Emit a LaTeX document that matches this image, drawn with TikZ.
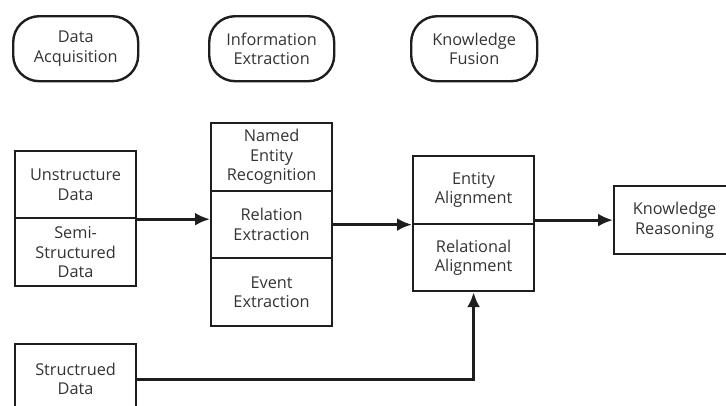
\documentclass[tikz,border=0pt]{standalone}
\usepackage{fontspec}
\setmainfont{Open Sans}
\usetikzlibrary{arrows.meta}
\definecolor{txt}{HTML}{333333}
\definecolor{ln}{HTML}{1E1E1E}
\begin{document}
\begin{tikzpicture}[x=1pt,y=-1pt,
  box/.style={draw=ln, line width=2.2pt, minimum width=121pt, align=center, inner sep=0pt,
    anchor=north west, text=txt, font=\fontsize{16.3}{19.5}\selectfont},
  pill/.style={box, rounded corners=26pt, minimum width=125pt, minimum height=65pt, line width=2.4pt},
  flow/.style={draw=ln, line width=3.2pt, -{Latex[length=15pt,width=13pt]}}]
\useasboundingbox (0,0) rectangle (726,405);
\clip (0,0) rectangle (726,405);
\node[pill] (p1) at (12,15) {Data\\Acquisition};
\node[pill] (p2) at (208,15) {Information\\Extraction};
\node[pill, minimum width=126pt] (p3) at (410,15) {Knowledge\\Fusion};
\node[box, minimum height=67pt] (u) at (14,150) {Unstructure\\Data};
\node[box, minimum height=68pt] (s) at (14,217) {Semi-\\Structured\\Data};
\node[box, minimum height=68pt] (ner) at (210,122) {Named\\Entity\\Recognition};
\node[box, minimum height=67pt] (rel) at (210,190) {Relation\\Extraction};
\node[box, minimum height=68pt] (ev) at (210,257) {Event\\Extraction};
\node[box, minimum height=68pt] (ea) at (412,155) {Entity\\Alignment};
\node[box, minimum height=67pt] (ra) at (412,223) {Relational\\Alignment};
\node[box, minimum height=68pt] (kr) at (613,185) {Knowledge\\Reasoning};
\node[box, minimum height=70pt] (sd) at (14,343) {Structrued\\Data};
\draw[flow] (u.south east) -- (u.south east -| ner.west);
\draw[flow] (rel.east) -- (rel.east -| ea.west);
\draw[flow] (kr.west -| ea.east) -- (kr.west);
\draw[flow] (sd.east) -| (ra.south);
\end{tikzpicture}
\end{document}
